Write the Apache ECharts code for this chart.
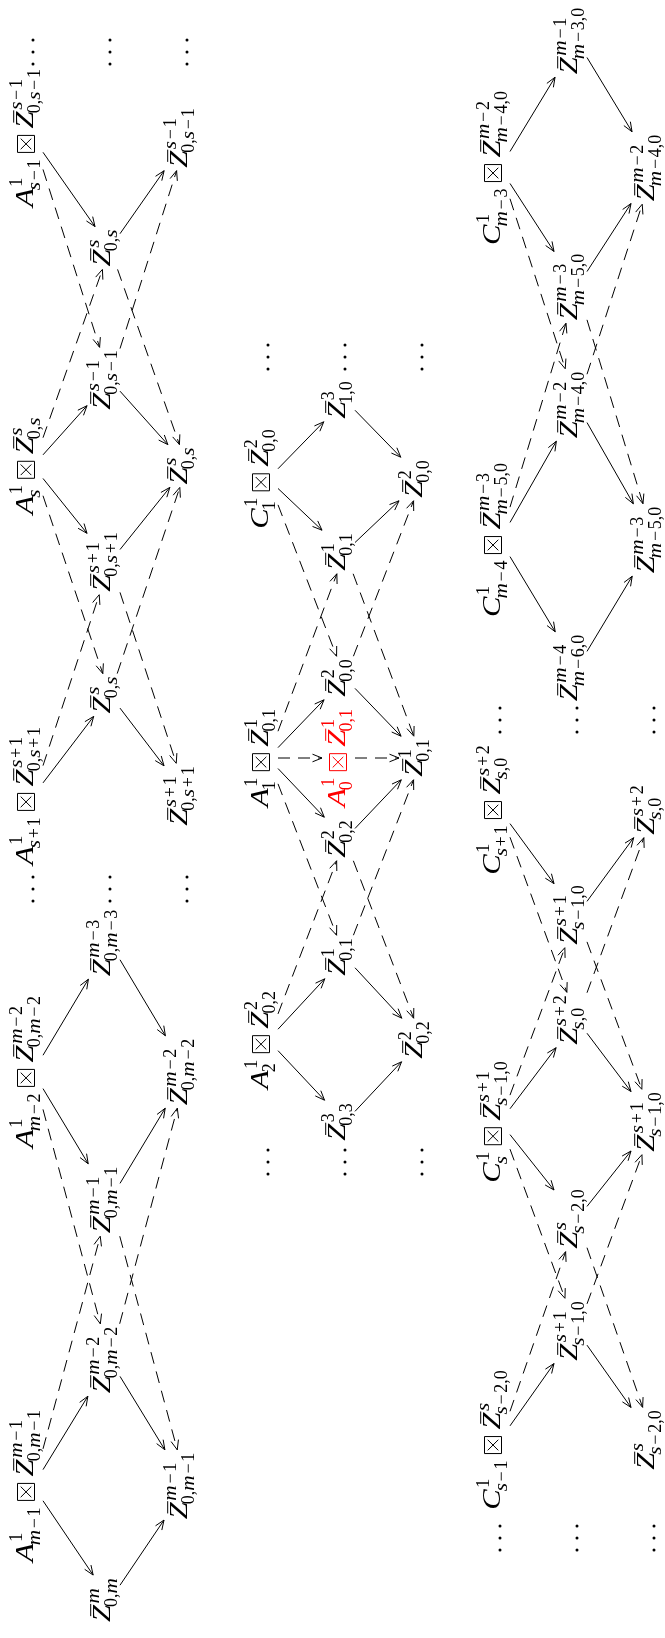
<!DOCTYPE html>
<html>
<head>
<meta charset="utf-8">
<script src="https://cdn.jsdelivr.net/npm/echarts@6/dist/echarts.min.js"></script>
<style>
  html, body { margin: 0; padding: 0; background: #fff; }
  #main { width: 665px; height: 1638px; }
</style>
</head>
<body>
<div id="main"></div>
<script>
// node: [id, level (0 = top label, 1 = middle, 2 = bottom), position along the row, label]
// label: 'Z|sup|sub'  or  'A|sup|sub|Zsup|Zsub' (C = C-letter, R = red A),  '...' = dots
const nodesLeft = [
  ['dA', 0, 52, '...'], ['dM', 1, 52, '...'], ['dB', 2, 52, '...'],
  ['aSm1', 0, 138, 'A|1|s−1|s−1|0,s−1'],
  ['bSm1', 2, 138, 'Z|s−1|0,s−1'],
  ['mS1', 1, 248, 'Z|s|0,s'],
  ['mSm1', 1, 380, 'Z|s−1|0,s−1'],
  ['aS', 0, 466, 'A|1|s|s|0,s'],
  ['bS', 2, 466, 'Z|s|0,s'],
  ['mSp1', 1, 562, 'Z|s+1|0,s+1'],
  ['mS2', 1, 695, 'Z|s|0,s'],
  ['aSp1', 0, 796, 'A|1|s+1|s+1|0,s+1'],
  ['bSp1', 2, 796, 'Z|s+1|0,s+1'],
  ['eA', 0, 889, '...'], ['eM', 1, 889, '...'], ['eB', 2, 889, '...'],
  ['mMm3', 1, 943, 'Z|m−3|0,m−3'],
  ['aMm2', 0, 1072, 'A|1|m−2|m−2|0,m−2'],
  ['bMm2', 2, 1072, 'Z|m−2|0,m−2'],
  ['mMm1', 1, 1200, 'Z|m−1|0,m−1'],
  ['mMm2', 1, 1360, 'Z|m−2|0,m−2'],
  ['aMm1', 0, 1486, 'A|1|m−1|m−1|0,m−1'],
  ['bMm1', 2, 1486, 'Z|m−1|0,m−1'],
  ['mM', 1, 1600, 'Z|m|0,m']
];
const edgesLeft = [
  ['aSm1', 'mS1', 's'], ['mS1', 'bSm1', 's'],
  ['aS', 'mSm1', 's'], ['aS', 'mSp1', 's'], ['mSm1', 'bS', 's'], ['mSp1', 'bS', 's'],
  ['aSp1', 'mS2', 's'], ['mS2', 'bSp1', 's'],
  ['aMm2', 'mMm3', 's'], ['aMm2', 'mMm1', 's'], ['mMm3', 'bMm2', 's'], ['mMm1', 'bMm2', 's'],
  ['aMm1', 'mMm2', 's'], ['aMm1', 'mM', 's'], ['mMm2', 'bMm1', 's'], ['mM', 'bMm1', 's'],
  ['aSm1', 'mSm1', 'd'], ['aS', 'mS1', 'd'], ['mS1', 'bS', 'd'], ['mSm1', 'bSm1', 'd'],
  ['aSp1', 'mSp1', 'd'], ['aS', 'mS2', 'd'], ['mS2', 'bS', 'd'], ['mSp1', 'bSp1', 'd'],
  ['aMm1', 'mMm1', 'd'], ['aMm2', 'mMm2', 'd'], ['mMm1', 'bMm1', 'd'], ['mMm2', 'bMm2', 'd']
];

const nodesMiddle = [
  ['dA', 0, 357, '...'], ['dM', 1, 357, '...'], ['dB', 2, 357, '...'],
  ['m310', 1, 400, 'Z|3|1,0'],
  ['c1', 0, 479, 'C|1|1|2|0,0'],
  ['b200', 2, 479, 'Z|2|0,0'],
  ['m101a', 1, 552, 'Z|1|0,1'],
  ['m200', 1, 678, 'Z|2|0,0'],
  ['a1', 0, 758, 'A|1|1|1|0,1'],
  ['a0', 1, 758, 'R|1|0|1|0,1'],
  ['b101', 2, 758, 'Z|1|0,1'],
  ['m202', 1, 839, 'Z|2|0,2'],
  ['m101b', 1, 957, 'Z|1|0,1'],
  ['a2', 0, 1040, 'A|1|2|2|0,2'],
  ['b202', 2, 1040, 'Z|2|0,2'],
  ['m303', 1, 1122, 'Z|3|0,3'],
  ['eA', 0, 1162, '...'], ['eM', 1, 1162, '...'], ['eB', 2, 1162, '...']
];
const edgesMiddle = [
  ['c1', 'm310', 's'], ['c1', 'm101a', 's'], ['m310', 'b200', 's'], ['m101a', 'b200', 's'],
  ['a1', 'm200', 's'], ['a1', 'm202', 's'], ['m200', 'b101', 's'], ['m202', 'b101', 's'],
  ['a2', 'm101b', 's'], ['a2', 'm303', 's'], ['m101b', 'b202', 's'], ['m303', 'b202', 's'],
  ['a1', 'm101a', 'd'], ['c1', 'm200', 'd'], ['m200', 'b200', 'd'], ['m101a', 'b101', 'd'],
  ['a1', 'a0', 'd'], ['a0', 'b101', 'd'],
  ['a2', 'm202', 'd'], ['a1', 'm101b', 'd'], ['m202', 'b202', 'd'], ['m101b', 'b101', 'd']
];

const nodesRight = [
  ['mM1', 1, 41, 'Z|m−1|m−3,0'],
  ['cMm3', 0, 168, 'C|1|m−3|m−2|m−4,0'],
  ['bMm2', 2, 168, 'Z|m−2|m−4,0'],
  ['mMm3', 1, 287, 'Z|m−3|m−5,0'],
  ['mMm2', 1, 405, 'Z|m−2|m−4,0'],
  ['cMm4', 0, 540, 'C|1|m−4|m−3|m−5,0'],
  ['bMm3', 2, 540, 'Z|m−3|m−5,0'],
  ['mMm4', 1, 668, 'Z|m−4|m−6,0'],
  ['dA', 0, 720, '...'], ['dM', 1, 720, '...'], ['dB', 2, 720, '...'],
  ['cSp1', 0, 810, 'C|1|s+1|s+2|s,0'],
  ['bSp2', 2, 810, 'Z|s+2|s,0'],
  ['mSp1a', 1, 915, 'Z|s+1|s−1,0'],
  ['mSp2', 1, 1020, 'Z|s+2|s,0'],
  ['cS', 0, 1122, 'C|1|s|s+1|s−1,0'],
  ['bSp1', 2, 1122, 'Z|s+1|s−1,0'],
  ['mS', 1, 1219, 'Z|s|s−2,0'],
  ['mSp1b', 1, 1331, 'Z|s+1|s−1,0'],
  ['cSm1', 0, 1440, 'C|1|s−1|s|s−2,0'],
  ['bS', 2, 1440, 'Z|s|s−2,0'],
  ['eA', 0, 1538, '...'], ['eM', 1, 1538, '...'], ['eB', 2, 1538, '...']
];
const edgesRight = [
  ['cMm3', 'mM1', 's'], ['cMm3', 'mMm3', 's'], ['mM1', 'bMm2', 's'], ['mMm3', 'bMm2', 's'],
  ['cMm4', 'mMm2', 's'], ['cMm4', 'mMm4', 's'], ['mMm2', 'bMm3', 's'], ['mMm4', 'bMm3', 's'],
  ['cSp1', 'mSp1a', 's'], ['mSp1a', 'bSp2', 's'],
  ['cS', 'mSp2', 's'], ['cS', 'mS', 's'], ['mSp2', 'bSp1', 's'], ['mS', 'bSp1', 's'],
  ['cSm1', 'mSp1b', 's'], ['mSp1b', 'bS', 's'],
  ['cMm3', 'mMm2', 'd'], ['cMm4', 'mMm3', 'd'], ['mMm2', 'bMm2', 'd'], ['mMm3', 'bMm3', 'd'],
  ['cSp1', 'mSp2', 'd'], ['cS', 'mSp1a', 'd'], ['mSp2', 'bSp2', 'd'], ['mSp1a', 'bSp1', 'd'],
  ['cS', 'mSp1b', 'd'], ['cSm1', 'mS', 'd'], ['mSp1b', 'bSp1', 'd'], ['mS', 'bS', 'd']
];

const panels = [[nodesLeft, edgesLeft], [nodesMiddle, edgesMiddle], [nodesRight, edgesRight]];

// layout
const PANEL_X = [33, 268, 500];
const LEVEL_DX = 77;
const FAMILY = '"Liberation Serif", "Times New Roman", serif';
const F = 26, S = 18, BASE = 1.5, MID = 0.3375, GAP = 7, BOX = 17;
const ST = 1.18;        // italic letters are drawn a bit wider
const OP_PAD = 1.7;     // extra room around script + and −
const BOX_TOP = -23, BOX_BOTTOM = 10;   // node box across the row, for arrow ends

const ctx = document.createElement('canvas').getContext('2d');
function measure(t, size, italic) {
  ctx.font = (italic ? 'italic ' : '') + size + 'px ' + FAMILY;
  return ctx.measureText(t).width;
}
function kind(ch) {
  if (/[a-z]/i.test(ch)) return 'it';
  if (ch === '−' || ch === '+') return 'op';
  return 'up';
}
function runs(str) {
  const out = [];
  for (const ch of str) {
    const k = kind(ch);
    if (k !== 'op' && out.length && out[out.length - 1].k === k) out[out.length - 1].t += ch;
    else out.push({ t: ch, k: k });
  }
  return out;
}
function textEl(t, x, baseline, size, italic, color) {
  return {
    type: 'text', x: x, y: baseline - MID * size, scaleX: italic ? ST : 1,
    style: { text: t, font: (italic ? 'italic ' : '') + size + 'px ' + FAMILY, fill: color, align: 'left', verticalAlign: 'middle' }
  };
}
function lineEl(x1, y1, x2, y2, color) {
  return { type: 'line', shape: { x1: x1, y1: y1, x2: x2, y2: y2 }, style: { stroke: color, lineWidth: 1 } };
}
function script(str, x, baseline, color, out) {
  let cx = x;
  runs(str).forEach(function (r) {
    const it = r.k === 'it';
    if (r.k === 'op') cx += OP_PAD;
    out.push(textEl(r.t, cx, baseline, S, it, color));
    cx += measure(r.t, S, it) * (it ? ST : 1);
    if (r.k === 'op') cx += OP_PAD;
  });
  return cx - x;
}
function atom(out, x, letter, sup, sub, bar, color) {
  const w = measure(letter, F, true) * ST;
  out.push(textEl(letter, x, BASE, F, true, color));
  if (bar) out.push(lineEl(x + 0.34 * w, BASE - 0.8 * F, x + w + 1, BASE - 0.8 * F, color));
  const ws = script(sup, x + w + 1.5, BASE - 0.42 * F, color, out);
  const wb = script(sub, x + w - 2, BASE + 0.27 * F, color, out);
  return Math.max(w + 1.5 + ws, w - 2 + wb);
}
function buildLabel(code) {
  const out = [];
  if (code === '...') {
    [-12, 0, 12].forEach(function (dx) {
      out.push({ type: 'circle', shape: { cx: dx, cy: 0, r: 1.5 }, style: { fill: '#000' } });
    });
    return { children: out, half: 13 };
  }
  const p = code.split('|');
  let color = '#000', w;
  if (p[0] === 'Z') {
    w = atom(out, 0, 'Z', p[1], p[2], true, color);
  } else {
    if (p[0] === 'R') color = '#ff0000';
    let x = atom(out, 0, p[0] === 'C' ? 'C' : 'A', p[1], p[2], false, color);
    x += GAP;
    out.push({ type: 'rect', shape: { x: x, y: BASE - BOX, width: BOX, height: BOX }, style: { fill: 'none', stroke: color, lineWidth: 1 } });
    const ins = 3.2;
    out.push(lineEl(x + ins, BASE - BOX + ins, x + BOX - ins, BASE - ins, color));
    out.push(lineEl(x + ins, BASE - ins, x + BOX - ins, BASE - BOX + ins, color));
    x += BOX + GAP;
    x += atom(out, x, 'Z', p[3], p[4], true, color);
    w = x;
  }
  const h = w / 2;
  out.forEach(function (el) {
    if (el.type === 'text') el.x -= h;
    else if (el.type === 'line') { el.shape.x1 -= h; el.shape.x2 -= h; }
    else if (el.type === 'rect') el.shape.x -= h;
  });
  return { children: out, half: h };
}

const nodeList = [];
const edgeList = [];
panels.forEach(function (pn, pi) {
  const byId = {};
  pn[0].forEach(function (n) {
    const lab = buildLabel(n[3]);
    const node = { x: PANEL_X[pi] + n[1] * LEVEL_DX, y: n[2], label: lab };
    byId[n[0]] = node;
    nodeList.push(node);
  });
  pn[1].forEach(function (e) {
    edgeList.push({ src: byId[e[0]], dst: byId[e[1]], dashed: e[2] === 'd' });
  });
});

// how far along d the line runs before leaving the node's box
function exitT(d, node) {
  const hy = node.label.half + 3;
  let t = Infinity;
  if (d[0] > 0) t = Math.min(t, BOX_BOTTOM / d[0]);
  else if (d[0] < 0) t = Math.min(t, BOX_TOP / d[0]);
  if (d[1] > 0) t = Math.min(t, hy / d[1]);
  else if (d[1] < 0) t = Math.min(t, -hy / d[1]);
  return t;
}

function renderNode(params, api) {
  const n = nodeList[params.dataIndex];
  const pt = api.coord([api.value(0), api.value(1)]);
  return { type: 'group', x: pt[0], y: pt[1], rotation: Math.PI / 2, children: n.label.children };
}

function renderEdge(params, api) {
  const e = edgeList[params.dataIndex];
  const p1 = api.coord([api.value(0), api.value(1)]);
  const p2 = api.coord([api.value(2), api.value(3)]);
  const d = [p2[0] - p1[0], p2[1] - p1[1]];
  const t1 = exitT(d, e.src), t2 = exitT([-d[0], -d[1]], e.dst);
  const a = [p1[0] + d[0] * t1, p1[1] + d[1] * t1];
  const b = [p2[0] - d[0] * t2, p2[1] - d[1] * t2];
  const len = Math.hypot(d[0], d[1]);
  const u = [d[0] / len, d[1] / len], nv = [-u[1], u[0]];
  const L = 9.5, W = 3.8;
  const h1 = [b[0] - u[0] * L + nv[0] * W, b[1] - u[1] * L + nv[1] * W];
  const h2 = [b[0] - u[0] * L - nv[0] * W, b[1] - u[1] * L - nv[1] * W];
  return {
    type: 'group',
    children: [
      { type: 'line', shape: { x1: a[0], y1: a[1], x2: b[0], y2: b[1] },
        style: { stroke: '#000', lineWidth: 1, lineDash: e.dashed ? [12, 8] : null } },
      { type: 'polyline', shape: { points: [h1, b, h2] }, style: { stroke: '#000', fill: 'none', lineWidth: 1 } }
    ]
  };
}

const chart = echarts.init(document.getElementById('main'));
chart.setOption({
  animation: false,
  backgroundColor: '#fff',
  grid: { left: 0, right: 0, top: 0, bottom: 0 },
  xAxis: { type: 'value', min: 0, max: 665, show: false },
  yAxis: { type: 'value', min: 0, max: 1638, inverse: true, show: false },
  series: [
    {
      type: 'custom', coordinateSystem: 'cartesian2d', silent: true, z: 1,
      encode: { x: [0, 2], y: [1, 3] },
      data: edgeList.map(function (e) { return [e.src.x, e.src.y, e.dst.x, e.dst.y]; }),
      renderItem: renderEdge
    },
    {
      type: 'custom', coordinateSystem: 'cartesian2d', silent: true, z: 2,
      encode: { x: 0, y: 1 },
      data: nodeList.map(function (n) { return [n.x, n.y]; }),
      renderItem: renderNode
    }
  ]
});
</script>
</body>
</html>
